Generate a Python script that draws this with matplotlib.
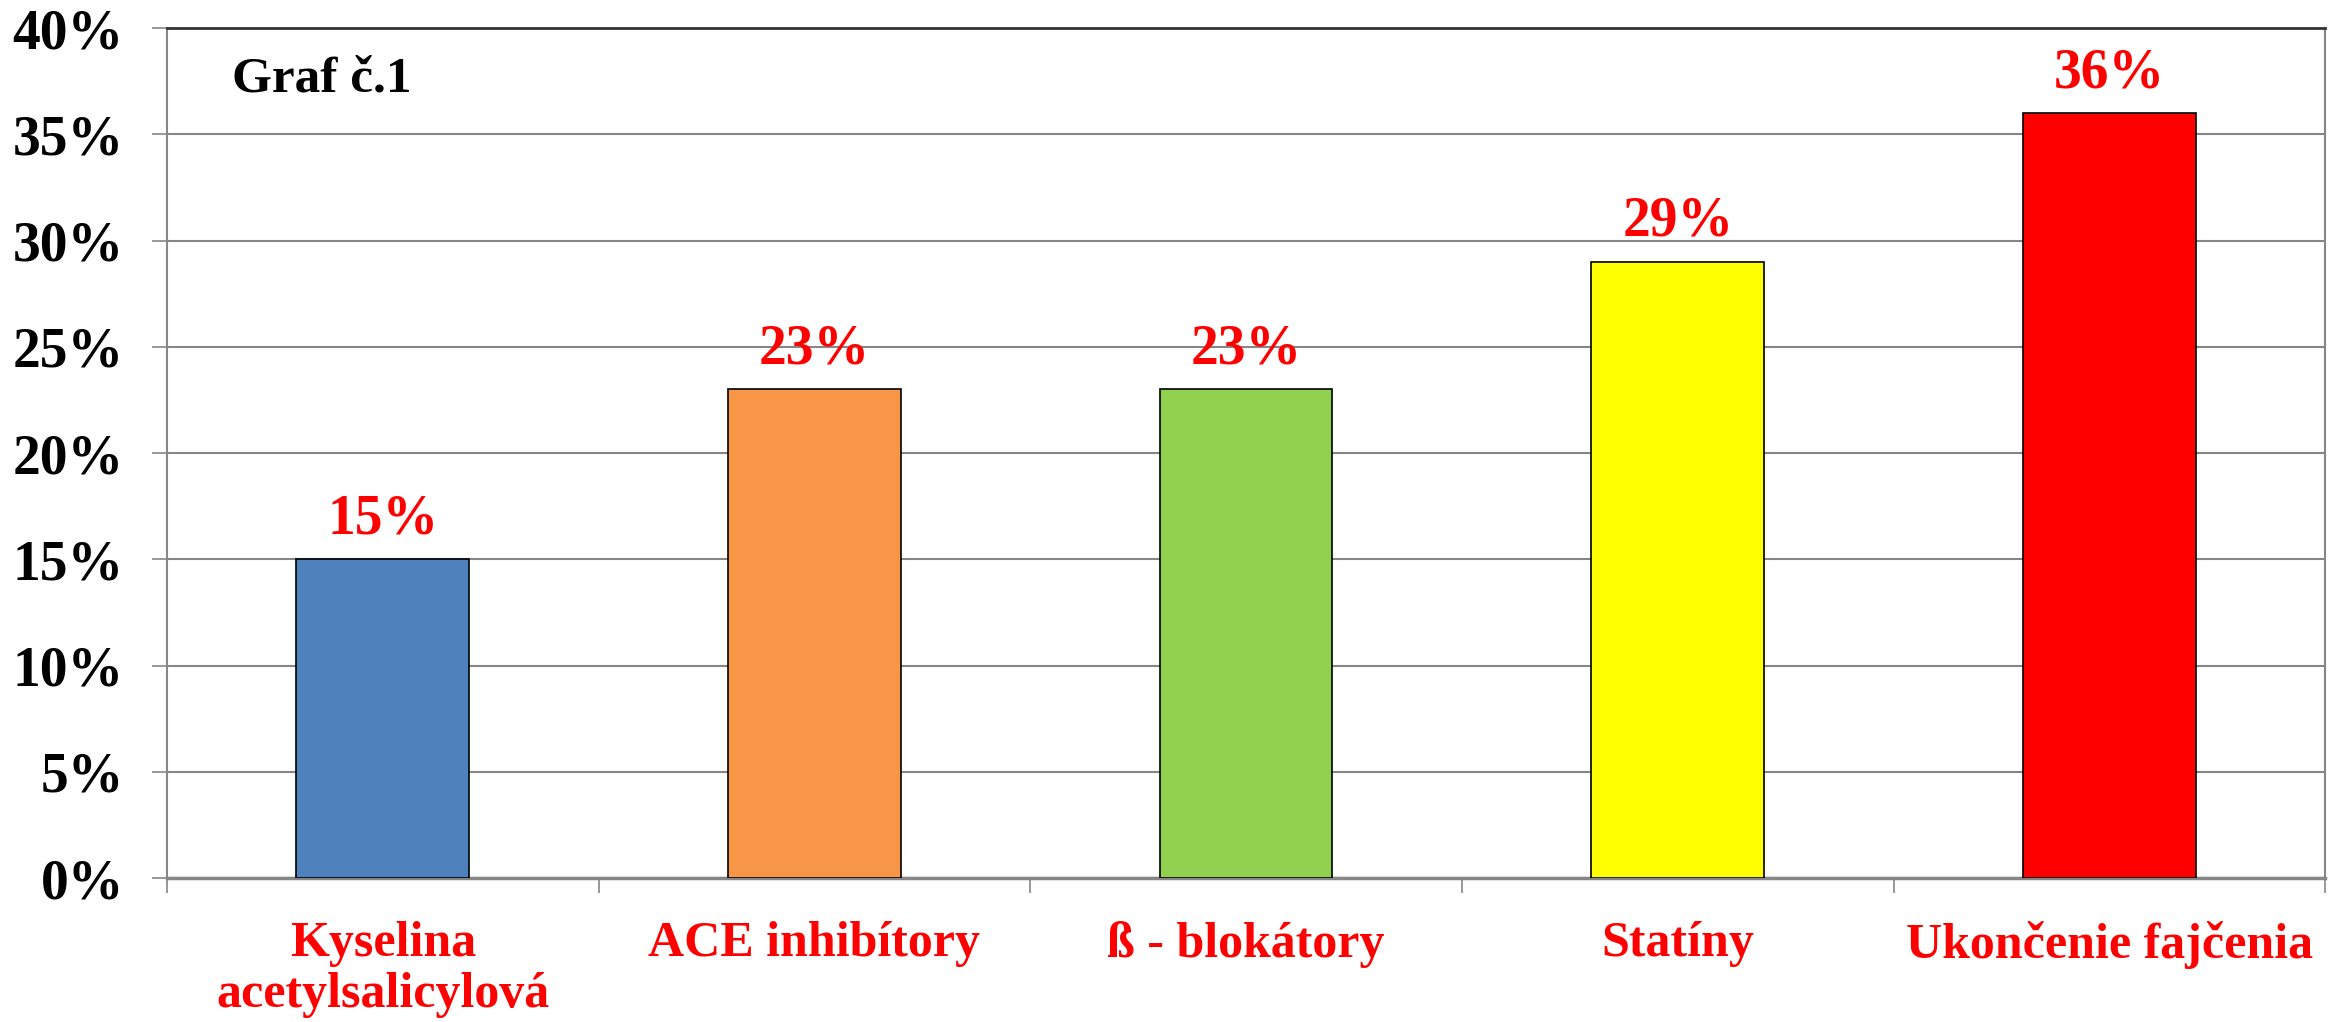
import numpy as np
import matplotlib
matplotlib.use("Agg")
import matplotlib.pyplot as plt
from matplotlib.ticker import FuncFormatter, MultipleLocator

# data
categories = ["Kyselina\nacetylsalicylová", "ACE inhibítory", "ß - blokátory", "Statíny", "Ukončenie fajčenia"]
values = [15, 23, 23, 29, 36]
bar_colors = ["#4F81BD", "#F79646", "#92D050", "#FFFF00", "#FF0000"]

plt.rcParams["font.family"] = ["Liberation Serif", "DejaVu Serif"]
plt.rcParams["font.weight"] = "bold"

fig = plt.figure(figsize=(23.41, 10.22), dpi=100)
ax = fig.add_axes([0.0713, 0.1409, 0.9220, 0.8317])

x = np.arange(len(categories))
ax.bar(x, values, width=0.4, color=bar_colors, edgecolor="black", linewidth=1.2, zorder=3)

# value labels
for xi, v in zip(x, values):
    ax.annotate(f"{v}%", (xi, v), xytext=(0, 10), textcoords="offset points",
                ha="center", va="bottom", color="red", fontsize=40, fontweight="bold")

ax.set_xlim(-0.5, len(categories) - 0.5)
ax.set_ylim(0, 40)
ax.yaxis.set_major_locator(MultipleLocator(5))
ax.yaxis.set_major_formatter(FuncFormatter(lambda v, p: f"{v:.0f}%"))
ax.grid(axis="y", color="#868686", linewidth=1.5, zorder=0)

# y ticks
ax.tick_params(axis="y", direction="out", length=11, width=1.2, color="#868686",
               labelsize=40, pad=20)
for lbl in ax.get_yticklabels():
    lbl.set_fontweight("bold")

# x labels and boundary ticks
ax.set_xticks(x)
ax.set_xticklabels(categories, color="red", fontsize=36, fontweight="bold", linespacing=1.15)
ax.tick_params(axis="x", which="major", length=0, pad=31)
ax.set_xticks(np.arange(-0.5, len(categories)), minor=True)
ax.tick_params(axis="x", which="minor", direction="out", length=11, width=1.2, color="#868686")

for side in ["left", "right"]:
    ax.spines[side].set_color("#868686")
    ax.spines[side].set_linewidth(1.5)
ax.spines["bottom"].set_color("#868686")
ax.spines["bottom"].set_linewidth(2.5)
ax.spines["top"].set_color("#333333")
ax.spines["top"].set_linewidth(2)

ax.text(0.03, 0.94, "Graf č.1", transform=ax.transAxes, fontsize=37,
        fontweight="bold", ha="left", va="center")

fig.savefig("out.png", dpi=100)
